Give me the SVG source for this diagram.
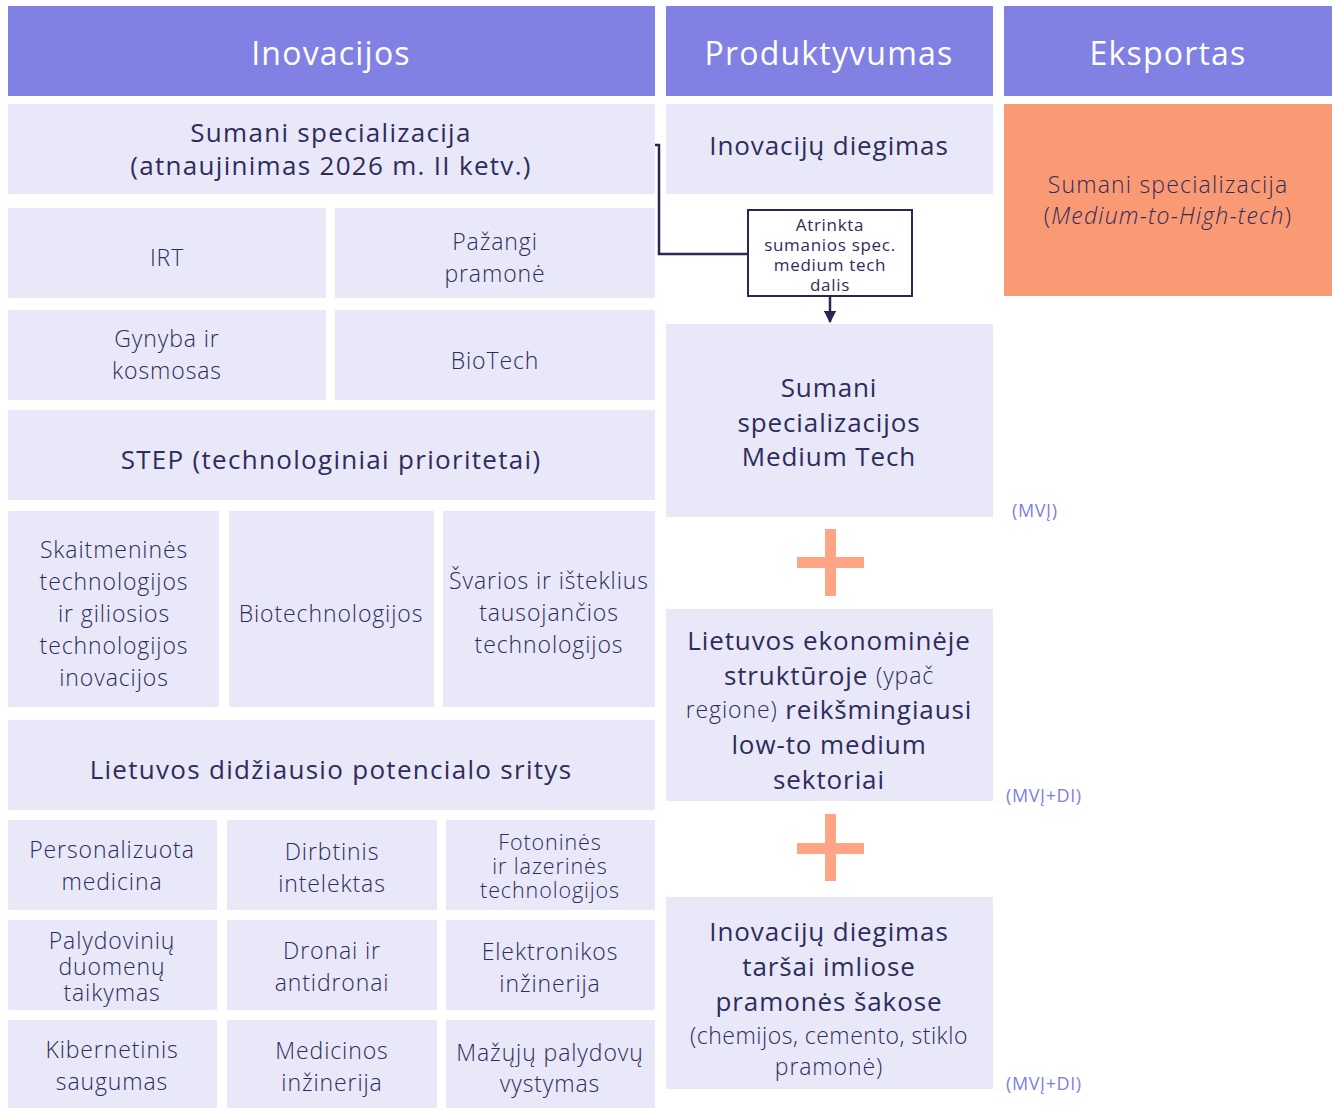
<svg xmlns="http://www.w3.org/2000/svg" width="1332" height="1108" viewBox="0 0 1332 1108">
<style>
text{font-family:"Open Sans","Liberation Sans",sans-serif;fill:#2F2C5C;text-anchor:middle;dominant-baseline:central}
.h{fill:#8181E4}
.b{fill:#E8E8F8}
.ht{fill:#FFFFFF;font-size:32px;letter-spacing:1.2px}
.t{font-size:23px;font-weight:300;letter-spacing:0.9px}
.m{font-size:26px;letter-spacing:1.3px}
.l{font-size:26px;font-weight:500;letter-spacing:0.9px}
.s{font-size:17px;letter-spacing:0.7px}
.p{fill:#FFA585}
.mv{fill:#8080E4;font-size:18px;letter-spacing:0.6px;text-anchor:start}
</style>
<defs>
<marker id="arr" viewBox="0 0 10 10" refX="9" refY="5" markerWidth="5" markerHeight="5" orient="auto"><path d="M0,0 L10,5 L0,10 z" fill="#2B2655"/></marker>
</defs>
<rect width="1332" height="1108" fill="#FFFFFF"/>
<g id="headers">
<g id="h-inovacijos"><rect class="h" x="8" y="6" width="647" height="90"/><text class="ht" x="331" y="52">Inovacijos</text></g>
<g id="h-produktyvumas"><rect class="h" x="666" y="6" width="327" height="90"/><text class="ht" x="829" y="52">Produktyvumas</text></g>
<g id="h-eksportas"><rect class="h" x="1004" y="6" width="328" height="90"/><text class="ht" x="1168" y="52">Eksportas</text></g>
</g>
<g id="n-sumani"><rect class="b" x="8" y="104" width="647" height="90"/><text class="m" x="331" y="132">Sumani specializacija</text><text class="m" x="331" y="165">(atnaujinimas 2026 m. II ketv.)</text></g>
<g id="n-irt"><rect class="b" x="8" y="208" width="318" height="90"/><text class="t" x="167" y="257">IRT</text></g>
<g id="n-pazangi"><rect class="b" x="335" y="208" width="320" height="90"/><text class="t" x="495" y="241">Pažangi</text><text class="t" x="495" y="273">pramonė</text></g>
<g id="n-gynyba"><rect class="b" x="8" y="310" width="318" height="90"/><text class="t" x="167" y="338">Gynyba ir</text><text class="t" x="167" y="370">kosmosas</text></g>
<g id="n-biotech"><rect class="b" x="335" y="310" width="320" height="90"/><text class="t" x="495" y="360">BioTech</text></g>
<g id="n-step"><rect class="b" x="8" y="410" width="647" height="90"/><text class="m" x="331" y="459">STEP (technologiniai prioritetai)</text></g>
<g id="n-skaitm"><rect class="b" x="8" y="511" width="211" height="196"/>
<text class="t" x="114" y="549">Skaitmeninės</text><text class="t" x="114" y="581">technologijos</text><text class="t" x="114" y="613">ir giliosios</text><text class="t" x="114" y="645">technologijos</text><text class="t" x="114" y="677">inovacijos</text></g>
<g id="n-biotechn"><rect class="b" x="229" y="511" width="205" height="196"/><text class="t" x="331" y="613">Biotechnologijos</text></g>
<g id="n-svarios"><rect class="b" x="443" y="511" width="212" height="196"/><text class="t" x="549" y="580">Švarios ir išteklius</text><text class="t" x="549" y="612">tausojančios</text><text class="t" x="549" y="644">technologijos</text></g>
<g id="n-lietuvos-pot"><rect class="b" x="8" y="720" width="647" height="90"/><text class="m" x="331" y="769">Lietuvos didžiausio potencialo sritys</text></g>
<g id="n-personal"><rect class="b" x="8" y="820" width="209" height="90"/><text class="t" x="112" y="849">Personalizuota</text><text class="t" x="112" y="881">medicina</text></g>
<g id="n-dirbtinis"><rect class="b" x="227" y="820" width="210" height="90"/><text class="t" x="332" y="851">Dirbtinis</text><text class="t" x="332" y="883">intelektas</text></g>
<g id="n-fotonines"><rect class="b" x="446" y="820" width="209" height="90"/><text class="t" x="550" y="841" style="font-size:21.5px">Fotoninės</text><text class="t" x="550" y="865" style="font-size:21.5px">ir lazerinės</text><text class="t" x="550" y="889" style="font-size:21.5px">technologijos</text></g>
<g id="n-palydov"><rect class="b" x="8" y="920" width="209" height="90"/><text class="t" x="112" y="940">Palydovinių</text><text class="t" x="112" y="966">duomenų</text><text class="t" x="112" y="992">taikymas</text></g>
<g id="n-dronai"><rect class="b" x="227" y="920" width="210" height="90"/><text class="t" x="332" y="950">Dronai ir</text><text class="t" x="332" y="982">antidronai</text></g>
<g id="n-elektron"><rect class="b" x="446" y="920" width="209" height="90"/><text class="t" x="550" y="951">Elektronikos</text><text class="t" x="550" y="983">inžinerija</text></g>
<g id="n-kibern"><rect class="b" x="8" y="1020" width="209" height="88"/><text class="t" x="112" y="1049">Kibernetinis</text><text class="t" x="112" y="1081">saugumas</text></g>
<g id="n-medic"><rect class="b" x="227" y="1020" width="210" height="88"/><text class="t" x="332" y="1050">Medicinos</text><text class="t" x="332" y="1082">inžinerija</text></g>
<g id="n-mazuju"><rect class="b" x="446" y="1020" width="209" height="88"/><text class="t" x="550" y="1052">Mažųjų palydovų</text><text class="t" x="550" y="1083">vystymas</text></g>
<g id="n-diegimas"><rect class="b" x="666" y="104" width="327" height="90"/><text class="l" x="829" y="145">Inovacijų diegimas</text></g>
<g id="n-medium"><rect class="b" x="666" y="324" width="327" height="193"/><text class="l" x="829" y="387">Sumani</text><text class="l" x="829" y="422">specializacijos</text><text class="l" x="829" y="456">Medium Tech</text></g>
<g id="n-ekonom"><rect class="b" x="666" y="609" width="327" height="192"/>
<text class="l" x="829" y="640">Lietuvos ekonominėje</text>
<text class="l" x="829" y="675">struktūroje <tspan font-size="23" font-weight="300">(ypač</tspan></text>
<text class="l" x="829" y="709"><tspan font-size="23" font-weight="300">regione)</tspan> reikšmingiausi</text>
<text class="l" x="829" y="744">low-to medium</text>
<text class="l" x="829" y="779">sektoriai</text></g>
<g id="n-tarsai"><rect class="b" x="666" y="897" width="327" height="192"/>
<text class="l" x="829" y="931">Inovacijų diegimas</text>
<text class="l" x="829" y="966">taršai imliose</text>
<text class="l" x="829" y="1001">pramonės šakose</text>
<text class="t" x="829" y="1035" style="font-size:23px;letter-spacing:0.5px">(chemijos, cemento, stiklo</text>
<text class="t" x="829" y="1066" style="font-size:23px">pramonė)</text></g>
<g id="n-eksport"><rect x="1004" y="104" width="328" height="192" fill="#FA9A74"/><text class="t" x="1168" y="184" style="letter-spacing:1.2px">Sumani specializacija</text><text class="t" x="1168" y="215" style="letter-spacing:1.2px">(<tspan font-style="italic">Medium-to-High-tech</tspan>)</text></g>
<g id="n-atrinkta"><rect x="748" y="210" width="164" height="86" fill="#FFFFFF" stroke="#2B2655" stroke-width="2"/>
<text class="s" x="830" y="224">Atrinkta</text><text class="s" x="830" y="244">sumanios spec.</text><text class="s" x="830" y="264">medium tech</text><text class="s" x="830" y="284">dalis</text></g>
<g id="plus">
<rect class="p" x="825" y="529" width="11" height="67"/><rect class="p" x="797" y="557" width="67" height="11"/>
<rect class="p" x="825" y="814" width="11" height="67"/><rect class="p" x="797" y="843" width="67" height="11"/>
</g>
<g id="labels">
<text class="mv" x="1012" y="510">(MVĮ)</text>
<text class="mv" x="1006" y="795">(MVĮ+DI)</text>
<text class="mv" x="1006" y="1083">(MVĮ+DI)</text>
</g>
<g id="connectors" fill="none" stroke="#2B2655" stroke-width="2.5">
<path d="M655,145 H659 V254 H748"/>
<path d="M830,297 V322" marker-end="url(#arr)"/>
</g>
</svg>
